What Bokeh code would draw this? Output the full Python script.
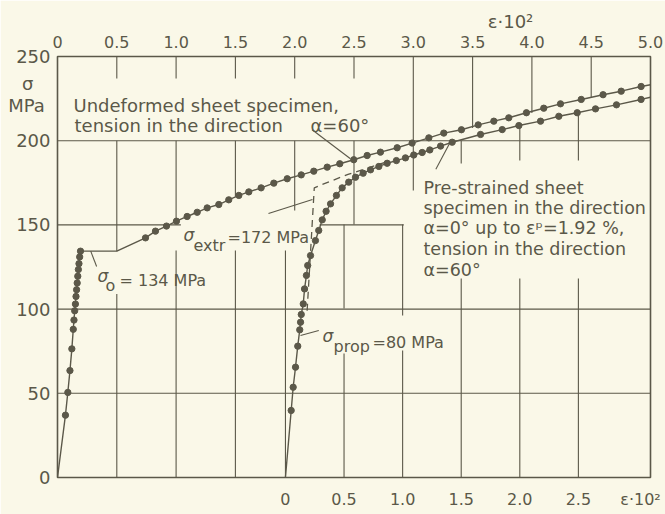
from bokeh.plotting import figure
from bokeh.models import Range1d, LinearAxis, FixedTicker, Label
from bokeh.embed import file_html
from bokeh.resources import INLINE

# ---------------- data (strain eps*10^2, stress sigma in MPa) ----------------
# Undeformed sheet specimen, tension in direction alpha = 60 deg (top strain axis)
und_el_eps = [0.067, 0.087, 0.105, 0.121, 0.133, 0.139, 0.145, 0.151, 0.156, 0.161,
              0.166, 0.171, 0.176, 0.181, 0.187, 0.194]
und_el_sig = [37, 50.5, 63.5, 76.4, 88, 93.5, 99, 103, 107.5, 111.5,
              115.5, 119.5, 123.5, 127, 131, 134.4]
sigma_0 = 134.4          # yield plateau
plateau_end_eps = 0.5
und_hd_eps = [0.742, 0.826, 0.919, 1.003, 1.093, 1.178, 1.262, 1.36, 1.444, 1.529,
              1.613, 1.717, 1.824, 1.937, 2.055, 2.161, 2.274, 2.38, 2.498, 2.611,
              2.723, 2.864, 2.99, 3.131, 3.257, 3.406, 3.547, 3.679, 3.805, 3.954,
              4.1, 4.241, 4.416, 4.6, 4.753, 4.921]
und_hd_sig = [142.3, 146.3, 149.3, 152.2, 155, 157.5, 160.1, 162.1, 164.9, 167.5,
              169.6, 172, 174.8, 177.4, 179.7, 181.9, 184.3, 186.3, 188.7, 191.2,
              193.2, 195.8, 198.6, 201.7, 204.5, 206.5, 209.4, 211.6, 213.6, 216.6,
              219.3, 221.9, 224.5, 227.3, 229.4, 232.2]
und_end = (5.0, 233.2)

# Pre-strained specimen (alpha = 0 deg up to 1.92 %), tension at alpha = 60 deg (bottom axis)
prestrain = 1.922
bottom_scale = 0.988
pre_eps = [0.049, 0.066, 0.086, 0.105, 0.122, 0.129, 0.135, 0.152, 0.163, 0.179,
           0.19, 0.214, 0.256, 0.284, 0.314, 0.347, 0.385, 0.435, 0.484, 0.54,
           0.598, 0.663, 0.726, 0.797, 0.868, 0.947, 1.024, 1.095, 1.167, 1.232,
           1.324, 1.423, 1.665, 1.85, 1.992, 2.177, 2.333, 2.49, 2.646, 2.825, 3.035]
pre_sig = [39.8, 53.6, 65.5, 78, 87.7, 92.2, 96.8, 103.1, 112, 120,
           125.9, 131.8, 140.7, 146.7, 153, 158.1, 162.5, 167.5, 172, 175.4,
           178.3, 180.7, 182.7, 184.7, 186.6, 188.2, 189.8, 191.5, 193, 194.5,
           196.8, 199.1, 203.7, 206.6, 209, 211.6, 214.5, 216.6, 218.9, 221.3, 224.5]
pre_end_sig = 225.8
# extrapolation (dashed) giving sigma_extr = 172 MPa
extr_eps = [0.185, 0.246, 0.332, 0.534, 0.868]
extr_sig = [99, 172, 174.5, 180, 187.5]

top_ticks = [0, 0.5, 1.0, 1.5, 2.0, 2.5, 3.0, 3.5, 4.0, 4.5, 5.0]
top_labels = ["0", "0.5", "1.0", "1.5", "2.0", "2.5", "3.0", "3.5", "4.0", "4.5", "5.0"]
bottom_ticks = [0, 0.5, 1.0, 1.5, 2.0, 2.5]
bottom_labels = ["0", "0.5", "1.0", "1.5", "2.0", "2.5"]
y_ticks = [0, 50, 100, 150, 200, 250]
y_labels = ["0", "50", "100", "150", "200", "250"]
x_title = "ε·10²"
y_title = ["σ", "MPa"]

# ---------------- style / layout ----------------
BG = "#faf8e8"
INK = "#5b5849"
FONT = "DejaVu Sans"
FRAME_LEFT, FRAME_TOP, FRAME_W, FRAME_H = 57, 56, 593, 421
W, H = 665, 514
# where the axis titles sit (in axis units)
top_title_at = 3.82
bottom_title_at = 3.03
y_title_at = [234, 221]

post_start = -prestrain / bottom_scale
post_end = (5.0 - prestrain) / bottom_scale

p = figure(width=W, height=H, x_range=Range1d(0, 5), y_range=Range1d(0, 250),
           x_axis_location="above", output_backend="svg", toolbar_location=None,
           min_border_left=FRAME_LEFT, min_border_right=W - FRAME_LEFT - FRAME_W,
           min_border_top=FRAME_TOP, min_border_bottom=H - FRAME_TOP - FRAME_H,
           background_fill_color=BG, border_fill_color=BG)
p.extra_x_ranges = {"post": Range1d(post_start, post_end)}
p.xgrid.visible = False
p.ygrid.visible = False
p.outline_line_color = INK
p.outline_line_width = 1.6


def style_axis(ax, size, standoff):
    ax.major_tick_line_color = None
    ax.minor_tick_line_color = None
    ax.major_tick_out = 0
    ax.major_tick_in = 0
    ax.minor_tick_out = 0
    ax.minor_tick_in = 0
    ax.axis_line_color = None
    ax.major_label_text_font = FONT
    ax.major_label_text_font_size = size
    ax.major_label_text_color = INK
    ax.major_label_standoff = standoff


top_ax = p.xaxis[0]
top_ax.ticker = FixedTicker(ticks=top_ticks)
top_ax.major_label_overrides = dict(zip(top_ticks, top_labels))
style_axis(top_ax, "16px", 9)

# outer top axis carrying the strain title
top_title_ax = LinearAxis(ticker=FixedTicker(ticks=[top_title_at]))
top_title_ax.major_label_overrides = {top_title_at: x_title}
style_axis(top_title_ax, "18px", 1)
p.add_layout(top_title_ax, "above")

left_ax = p.yaxis[0]
left_ax.ticker = FixedTicker(ticks=y_ticks + y_title_at)
ly = dict(zip(y_ticks, y_labels))
ly[y_title_at[0]] = y_title[0] + "\u00a0\u00a0\u00a0"
ly[y_title_at[1]] = y_title[1] + "\u00a0"
left_ax.major_label_overrides = ly
style_axis(left_ax, "18px", 7)

bot_ax = LinearAxis(x_range_name="post", ticker=FixedTicker(ticks=bottom_ticks + [bottom_title_at]))
lb = dict(zip(bottom_ticks, bottom_labels))
lb[bottom_title_at] = x_title
bot_ax.major_label_overrides = lb
style_axis(bot_ax, "16px", 12)
p.add_layout(bot_ax, "below")

# ---------------- hand-drawn grid (interrupted around texts) ----------------
top_grid = {0.5: [(237, 250), (134.4, 200), (0, 109)],
            1.0: [(237, 250), (152.2, 200), (0, 134.8)],
            1.5: [(237, 250), (167, 200), (0, 134.8)],
            2.0: [(237, 250), (158.6, 200)],
            2.5: [(237, 250), (150.2, 200)],
            3.0: [(170.4, 250)],
            3.5: [(207.5, 250)],
            4.0: [(216.5, 250)],
            4.5: [(226, 250)]}
bot_grid = {0: [(0, 134.8)],
            0.5: [(0, 73.6), (100.4, 150.2)],
            1.0: [(0, 75.4), (96.2, 150.2)],
            1.5: [(0, 118.2), (186.5, 200)],
            2.0: [(0, 118.2), (188.2, 209)],
            2.5: [(0, 118.2), (188.2, 216.6)]}
h_grid = {200: [(0, 5)], 150: [(0, 1.04), (2.21, 2.92)], 100: [(0, 5)], 50: [(0, 5)]}

gx, gy0, gy1 = [], [], []
for xv, spans in top_grid.items():
    for a, b in spans:
        gx.append(xv); gy0.append(a); gy1.append(b)
p.segment(x0=gx, y0=gy0, x1=gx, y1=gy1, line_color=INK, line_width=1.1)
bx, by0, by1 = [], [], []
for xv, spans in bot_grid.items():
    for a, b in spans:
        bx.append(xv); by0.append(a); by1.append(b)
p.segment(x0=bx, y0=by0, x1=bx, y1=by1, line_color=INK, line_width=1.1, x_range_name="post")
hx0, hx1, hy = [], [], []
for yv, spans in h_grid.items():
    for a, b in spans:
        hx0.append(a); hx1.append(b); hy.append(yv)
p.segment(x0=hx0, y0=hy, x1=hx1, y1=hy, line_color=INK, line_width=1.1)

# ---------------- curves ----------------
und_line_x = [0] + und_el_eps + [plateau_end_eps] + und_hd_eps + [und_end[0]]
und_line_y = [0] + und_el_sig + [sigma_0] + und_hd_sig + [und_end[1]]
p.line(und_line_x, und_line_y, line_color=INK, line_width=1.4)
p.scatter(und_el_eps + und_hd_eps, und_el_sig + und_hd_sig, size=6.3, color=INK)

p.line([0] + pre_eps + [post_end], [0] + pre_sig + [pre_end_sig], line_color=INK,
       line_width=1.4, x_range_name="post")
p.scatter(pre_eps, pre_sig, size=6.3, color=INK, x_range_name="post")
p.line(extr_eps, extr_sig, line_color=INK, line_width=1.3, line_dash="7 5",
       x_range_name="post")

# leader lines (top-axis units)
leaders = [([0.28, 0.33], [134.4, 125.3]),
           ([1.779, 2.15], [156.8, 165.1]),
           ([2.147, 2.47], [206.5, 189.3]),
           ([3.19, 3.31], [183, 199]),
           ([2.049, 2.203], [84.3, 87.3])]
for lx, lyy in leaders:
    p.line(lx, lyy, line_color=INK, line_width=1.1)

# ---------------- texts inside the frame (page pixels -> frame-relative screen units) ----------------
FRAME_BOTTOM = FRAME_TOP + FRAME_H


def lab(text, px, py, size="17px", align="left", style="normal"):
    p.add_layout(Label(x=px - FRAME_LEFT, y=FRAME_BOTTOM - py, x_units="screen", y_units="screen",
                       text=text, text_font=FONT, text_font_size=size,
                       text_font_style=style, text_color=INK, text_align=align,
                       text_baseline="alphabetic"))


lab("Undeformed sheet specimen,", 73, 105, "18px")
lab("tension in the direction", 74, 125, "18px")
lab("α=60°", 310, 125, "18px")

for i, t in enumerate(["Pre-strained sheet", "specimen in the direction",
                       "α=0° up to εᵖ=1.92 %,", "tension in the direction", "α=60°"]):
    lab(t, 423, [187, 207, 227, 248, 269][i], "17.5px")

lab("σ", 183, 234, "17px", style="italic")
lab("extr", 193, 245, "16px")
lab("=172 MPa", 227, 237, "16px")

lab("σ", 97, 275, "17px", style="italic")
lab("o", 105, 285, "16px")
lab("= 134 MPa", 119, 280, "16px")

lab("σ", 322, 335, "17px", style="italic")
lab("prop", 333, 346, "16px")
lab("=80 MPa", 372, 342, "16px")

open("out.html", "w").write(file_html(p, INLINE))
